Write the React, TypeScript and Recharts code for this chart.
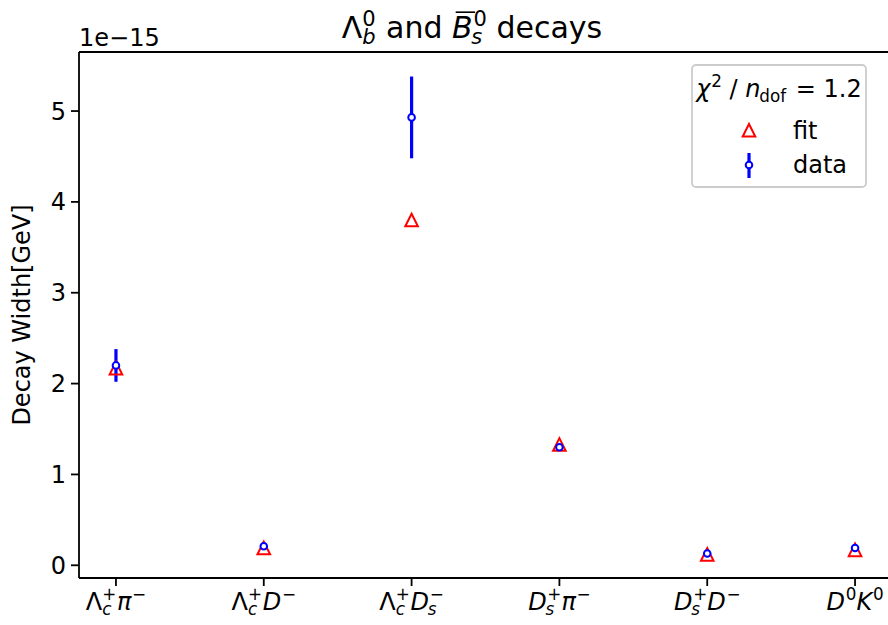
import React from 'react';
import { ScatterChart, Scatter, XAxis, YAxis, ErrorBar, ReferenceLine } from 'recharts';

// decay channels (mathtext-like: _{} italic script, _[] upright script, ‾ = overline next char)
const TICK_LABELS = ['Λ_{c}^{+}π^{−}', 'Λ_{c}^{+}D^{−}', 'Λ_{c}^{+}D_{s}^{−}', 'D_{s}^{+}π^{−}', 'D_{s}^{+}D^{−}', 'D^{0}K^{0}'];
const X_POS = [0, 1, 2, 3, 4, 5];
// decay widths in units of 1e-15 GeV
const FIT = [2.17, 0.19, 3.8, 1.33, 0.12, 0.17];
const DATA = [2.2, 0.21, 4.93, 1.3, 0.13, 0.19];
const ERR = [0.18, 0.02, 0.45, 0.03, 0.01, 0.02];
const Y_TICKS = [0, 1, 2, 3, 4, 5];
const Y_DOMAIN: [number, number] = [-0.14, 5.65];
const X_DOMAIN: [number, number] = [-0.25, 5.25];

const FONT = '"DejaVu Sans", sans-serif';
const FS = 24;
const RED = '#ff0000';
const BLUE = '#0000ff';

const fitPoints = X_POS.map((x, i) => ({ x, y: FIT[i] }));
const dataPoints = X_POS.map((x, i) => ({ x, y: DATA[i], err: ERR[i] }));

// rough DejaVu Sans advance widths (em)
const CW: Record<string, number> = {
  'Λ': 0.684, D: 0.77, K: 0.656, B: 0.686, 'π': 0.602, 'χ': 0.592, c: 0.55, s: 0.521, b: 0.635,
  n: 0.634, d: 0.635, o: 0.612, f: 0.352, a: 0.613, e: 0.615, y: 0.592, i: 0.278, t: 0.392,
  '0': 0.636, '1': 0.636, '2': 0.636, '+': 0.838, '−': 0.838, '=': 0.838, '.': 0.318, '/': 0.337, ' ': 0.318,
};
const strW = (s: string) => s.split('').reduce((a, c) => a + (CW[c] ?? 0.6), 0);
const isItalic = (c: string) => /[A-Za-z]/.test(c) || /[α-ω]/.test(c);

interface Part {
  base: string;
  italic: boolean;
  over?: boolean;
  sub?: string;
  subUp?: boolean;
  sup?: string;
  supUp?: boolean;
}

function parseMath(s: string): Part[] {
  const parts: Part[] = [];
  let i = 0;
  let over = false;
  while (i < s.length) {
    const ch = s[i];
    if (ch === '‾') {
      over = true;
      i++;
      continue;
    }
    if (ch === '_' || ch === '^') {
      const open = s[i + 1];
      const close = open === '{' ? '}' : ']';
      const j = s.indexOf(close, i + 2);
      const g = s.slice(i + 2, j);
      const last = parts[parts.length - 1];
      if (ch === '_') {
        last.sub = g;
        last.subUp = open === '[';
      } else {
        last.sup = g;
        last.supUp = open === '[';
      }
      i = j + 1;
      continue;
    }
    parts.push({ base: ch, italic: isItalic(ch), over });
    over = false;
    i++;
  }
  return parts;
}

const txt = (s: string): Part[] => [{ base: s, italic: false }];

function MathText({ parts, x, y, fs, anchor = 'start' }: { parts: Part[]; x: number; y: number; fs: number; anchor?: string }) {
  const sc = 0.7;
  const widths = parts.map((p) => {
    const bw = strW(p.base) * fs;
    const sw = Math.max(strW(p.sub || ''), strW(p.sup || '')) * fs * sc;
    return { bw, sw: sw ? sw + 0.03 * fs : 0 };
  });
  const total = widths.reduce((a, w) => a + w.bw + w.sw, 0);
  let cur = anchor === 'middle' ? x - total / 2 : anchor === 'end' ? x - total : x;
  const out: React.ReactNode[] = [];
  parts.forEach((p, k) => {
    const { bw, sw } = widths[k];
    out.push(
      <text key={`b${k}`} x={cur} y={y} fontSize={fs} fontStyle={p.italic ? 'italic' : 'normal'} fontFamily={FONT} fill="#000" style={{ whiteSpace: 'pre' }}>
        {p.base}
      </text>
    );
    if (p.over) {
      out.push(<line key={`o${k}`} x1={cur + 0.12 * fs} x2={cur + bw + 0.08 * fs} y1={y - 0.86 * fs} y2={y - 0.86 * fs} stroke="#000" strokeWidth={1.6} />);
    }
    const sx = cur + bw + (p.italic ? 0.03 * fs : 0);
    if (p.sup) {
      const it = !p.supUp && /[A-Za-z]/.test(p.sup);
      out.push(
        <text key={`p${k}`} x={sx} y={y - 0.4 * fs} fontSize={fs * sc} fontStyle={it ? 'italic' : 'normal'} fontFamily={FONT} fill="#000">
          {p.sup}
        </text>
      );
    }
    if (p.sub) {
      const it = !p.subUp && /[A-Za-z]/.test(p.sub);
      out.push(
        <text key={`s${k}`} x={sx - (p.italic ? 0.08 * fs : 0)} y={y + 0.2 * fs} fontSize={fs * sc} fontStyle={it ? 'italic' : 'normal'} fontFamily={FONT} fill="#000">
          {p.sub}
        </text>
      );
    }
    cur += bw + sw;
  });
  return <g>{out}</g>;
}

function XTick(props: any) {
  const { x, y, payload } = props;
  const label = TICK_LABELS[payload.value];
  if (!label) return null;
  return <MathText parts={parseMath(label)} x={x} y={y + 22} fs={FS} anchor="middle" />;
}

function Triangle(props: any) {
  const { cx, cy } = props;
  const s = 6.3;
  return <polygon points={`${cx},${cy - s} ${cx - s},${cy + s} ${cx + s},${cy + s}`} fill="none" stroke={RED} strokeWidth={2} />;
}

function Dot(props: any) {
  const { cx, cy } = props;
  return <circle cx={cx} cy={cy} r={3.3} fill="#fff" stroke={BLUE} strokeWidth={2} />;
}

const TITLE: Part[] = [...parseMath('Λ_{b}^{0}'), ...txt(' and '), ...parseMath('‾B_{s}^{0}'), ...txt(' decays')];
const LEGEND_TITLE: Part[] = [...parseMath('χ^{2}'), ...txt(' / '), ...parseMath('n_[dof]'), ...txt(' = 1.2')];

export default function App() {
  return (
    <div style={{ position: 'absolute', left: 0, top: 0, width: 888, height: 625, background: '#fff', fontFamily: FONT }}>
      <ScatterChart width={888} height={625} margin={{ top: 52, right: -4, bottom: 0, left: 0 }}>
        <XAxis
          type="number"
          dataKey="x"
          domain={X_DOMAIN}
          ticks={X_POS}
          allowDataOverflow
          height={47}
          tickSize={8}
          tickMargin={2}
          tick={<XTick />}
          axisLine={{ stroke: '#000', strokeWidth: 1.8 }}
          tickLine={{ stroke: '#000', strokeWidth: 1.8 }}
        />
        <YAxis
          type="number"
          dataKey="y"
          domain={Y_DOMAIN}
          ticks={Y_TICKS}
          allowDataOverflow
          width={79}
          tickSize={8}
          tickMargin={5}
          tick={{ fill: '#000', fontSize: FS, fontFamily: FONT }}
          axisLine={{ stroke: '#000', strokeWidth: 1.8 }}
          tickLine={{ stroke: '#000', strokeWidth: 1.8 }}
        />
        <ReferenceLine y={Y_DOMAIN[1]} stroke="#000" strokeWidth={1.8} />
        <ReferenceLine x={X_DOMAIN[1]} stroke="#000" strokeWidth={1.8} />
        <Scatter data={fitPoints} shape={<Triangle />} isAnimationActive={false} />
        <Scatter data={dataPoints} shape={<Dot />} isAnimationActive={false}>
          <ErrorBar dataKey="err" direction="y" width={0} stroke={BLUE} strokeWidth={3.2} />
        </Scatter>
      </ScatterChart>
      <svg width={888} height={625} style={{ position: 'absolute', left: 0, top: 0, pointerEvents: 'none' }}>
        <MathText parts={TITLE} x={472} y={38} fs={30} anchor="middle" />
        <text x={79} y={46} fontSize={FS} fontFamily={FONT} fill="#000">1e−15</text>
        <text transform="translate(30,315) rotate(-90)" textAnchor="middle" fontSize={FS} fontFamily={FONT} fill="#000">
          Decay Width[GeV]
        </text>
        <rect x={692} y={65} width={174} height={122} rx={4} fill="#fff" fillOpacity={0.8} stroke="#cccccc" strokeWidth={1.8} />
        <MathText parts={LEGEND_TITLE} x={779} y={97} fs={FS} anchor="middle" />
        <polygon points="749,124 742.7,136.6 755.3,136.6" fill="none" stroke={RED} strokeWidth={2} />
        <text x={793} y={139} fontSize={FS} fontFamily={FONT} fill="#000">fit</text>
        <line x1={749} x2={749} y1={153} y2={178} stroke={BLUE} strokeWidth={3.2} />
        <circle cx={749} cy={165} r={3.3} fill="#fff" stroke={BLUE} strokeWidth={2} />
        <text x={793} y={173} fontSize={FS} fontFamily={FONT} fill="#000">data</text>
      </svg>
    </div>
  );
}
